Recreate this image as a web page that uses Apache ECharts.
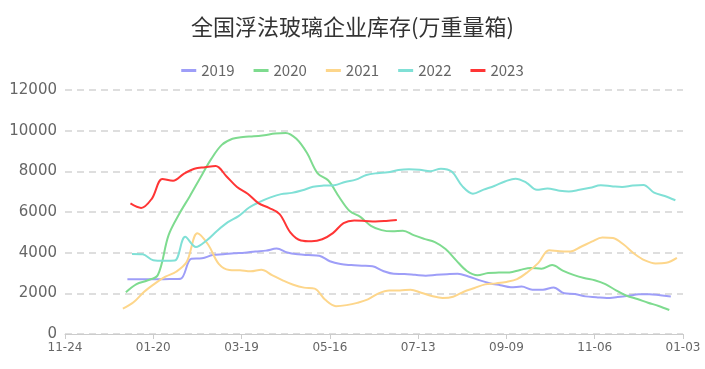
<!DOCTYPE html>
<html>
<head>
<meta charset="utf-8">
<script src="https://cdn.jsdelivr.net/npm/echarts@6/dist/echarts.min.js"></script>
<style>html,body{margin:0;padding:0;background:#fff}#c{width:705px;height:369px}</style>
</head>
<body>
<div id="c"></div>
<script>
var titleText = '全国浮法玻璃企业库存(万重量箱)';
var tickLabels = ['11-24','01-20','03-19','05-16','07-13','09-09','11-06','01-03'];
var seriesNames = ['2019','2020','2021','2022','2023'];
var firstDates = ['2019-01-04','2020-01-03','2021-01-01','2022-01-07','2023-01-06'];
var colors = ['#9e9ef8','#7edb8f','#fdd68b','#80e0d6','#ff3535'];

var v2019 = [2690,2690,2690,2690,2700,2720,3700,3720,3880,3920,3970,4000,4060,4100,4200,4010,3920,3880,3850,3580,3440,3390,3360,3330,3100,2960,2950,2910,2870,2910,2940,2960,2830,2650,2500,2400,2300,2330,2180,2180,2290,2000,1970,1850,1810,1770,1820,1880,1950,1960,1900,1840];
var v2020 = [2050,2450,2630,2900,4850,5900,6780,7700,8600,9300,9600,9690,9720,9780,9860,9890,9600,8900,7900,7550,6750,6050,5760,5320,5110,5050,5080,4860,4680,4520,4180,3620,3100,2890,3000,3020,3030,3150,3250,3210,3390,3120,2910,2750,2640,2450,2150,1880,1720,1540,1380,1180];
var v2021 = [1250,1560,2080,2480,2820,3060,3550,4950,4400,3450,3150,3130,3080,3160,2900,2640,2420,2280,2230,1680,1370,1420,1530,1700,2000,2140,2140,2180,2030,1870,1770,1830,2080,2260,2440,2490,2560,2700,3050,3500,4120,4070,4060,4290,4540,4750,4720,4400,3950,3620,3470,3500,3740];
var v2022 = [3940,3920,3630,3600,3610,4780,4280,4600,5080,5500,5800,6220,6500,6720,6880,6940,7070,7240,7300,7320,7480,7590,7820,7910,7950,8060,8100,8080,8010,8130,7990,7270,6900,7100,7280,7500,7640,7450,7090,7150,7060,7010,7090,7190,7310,7270,7230,7300,7330,6950,6790,6580];
var v2023 = [6420,6200,6650,7620,7540,7880,8130,8200,8260,7760,7230,6900,6440,6200,5900,5000,4600,4560,4660,4960,5450,5580,5560,5530,5560,5610];

var allValues = [v2019, v2020, v2021, v2022, v2023];
var DAY = 86400000;

function buildPoints(first, vals) {
  var d0 = new Date(first + 'T00:00:00Z');
  var origin = Date.UTC(d0.getUTCFullYear() - 1, 10, 24);
  return vals.map(function (v, i) {
    var t = d0.getTime() + i * 7 * DAY;
    return [Math.round((t - origin) / DAY), v];
  });
}

var series = seriesNames.map(function (name, i) {
  return {
    name: name,
    type: 'line',
    smooth: 0.35,
    showSymbol: false,
    symbol: 'none',
    data: buildPoints(firstDates[i], allValues[i]),
    lineStyle: { width: 2, color: colors[i] },
    itemStyle: { color: colors[i] }
  };
});

var chart = echarts.init(document.getElementById('c'));
chart.setOption({
  animation: false,
  title: {
    text: titleText,
    left: 'center',
    top: 11,
    textStyle: { fontSize: 22, fontWeight: 'normal', color: '#333', fontFamily: 'Noto Sans CJK SC' }
  },
  legend: {
    data: seriesNames,
    top: 58,
    left: 'center',
    icon: 'rect',
    itemWidth: 15,
    itemHeight: 3,
    itemGap: 19,
    textStyle: { fontSize: 15, color: '#666', fontFamily: 'Noto Sans CJK SC' }
  },
  grid: { left: 65, right: 22, top: 90, bottom: 35 },
  xAxis: {
    type: 'value',
    min: 0,
    max: 406,
    interval: 58,
    axisLine: { lineStyle: { color: '#ccc' } },
    axisTick: { show: true, length: 5, lineStyle: { color: '#ccc' } },
    splitLine: { show: false },
    axisLabel: {
      fontSize: 12,
      color: '#666',
      fontFamily: 'DejaVu Sans',
      margin: 8,
      formatter: function (v) { return tickLabels[Math.round(v / 58)]; }
    }
  },
  yAxis: {
    type: 'value',
    min: 0,
    max: 12000,
    interval: 2000,
    axisLine: { show: false },
    axisTick: { show: false },
    splitLine: { lineStyle: { type: [7, 5], color: '#d4d4d4', width: 1.5 } },
    axisLabel: {
      fontSize: 15, color: '#666', fontFamily: 'DejaVu Sans', margin: 8,
      formatter: function (v) { return String(v); }
    }
  },
  series: series
});
</script>
</body>
</html>
